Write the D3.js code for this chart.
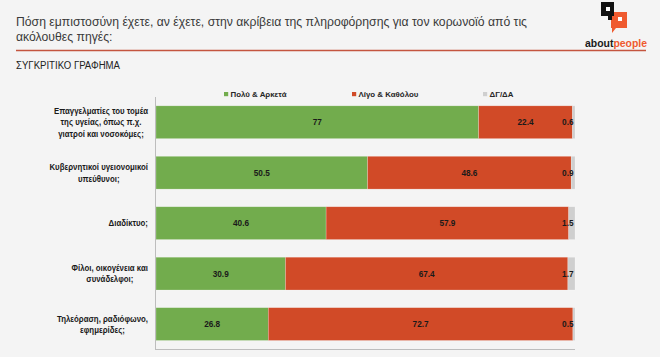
<!DOCTYPE html>
<html>
<head>
<meta charset="utf-8">
<script src="https://cdn.jsdelivr.net/npm/d3@7"></script>
<style>
html,body{margin:0;padding:0;background:#f4f4f4;}
svg{display:block;}
text{font-family:"Liberation Sans",Arial,sans-serif;}
</style>
</head>
<body>
<svg id="chart" width="660" height="357"></svg>
<script>
const titleLines = ["Πόση εμπιστοσύνη έχετε, αν έχετε, στην ακρίβεια της πληροφόρησης για τον κορωνοϊό από τις", "ακόλουθες πηγές:"];
const subtitle = "ΣΥΓΚΡΙΤΙΚΟ ΓΡΑΦΗΜΑ";
const seriesNames = ["Πολύ & Αρκετά", "Λίγο & Καθόλου", "ΔΓ/ΔΑ"];
const seriesColors = ["#72ac4d", "#d14a27", "#cfcfcf"];
const categories = [
  "Επαγγελματίες του τομέα της υγείας, όπως π.χ. γιατροί και νοσοκόμες;",
  "Κυβερνητικοί υγειονομικοί υπεύθυνοι;",
  "Διαδίκτυο;",
  "Φίλοι, οικογένεια και συνάδελφοι;",
  "Τηλεόραση, ραδιόφωνο, εφημερίδες;"
];
const categoryLines = [
  ["Επαγγελματίες του τομέα", "της υγείας, όπως π.χ.", "γιατροί και νοσοκόμες;"],
  ["Κυβερνητικοί υγειονομικοί", "υπεύθυνοι;"],
  ["Διαδίκτυο;"],
  ["Φίλοι, οικογένεια και", "συνάδελφοι;"],
  ["Τηλεόραση, ραδιόφωνο,", "εφημερίδες;"]
];
const poluArketa = [77, 50.5, 40.6, 30.9, 26.8];
const ligoKatholou = [22.4, 48.6, 57.9, 67.4, 72.7];
const dgDa = [0.6, 0.9, 1.5, 1.7, 0.5];

const svg = d3.select("#chart");

// horizontal compression factor so that text at a given size fits a target width
function compressFactor(str, size, weight, target) {
  const p = svg.append("text").style("font-size", size + "px").style("font-weight", weight).text(str);
  const w = p.node().getComputedTextLength();
  p.remove();
  return target / w;
}
function squeeze(sel, k) {
  const w = sel.node().getComputedTextLength();
  sel.attr("textLength", w * k).attr("lengthAdjust", "spacingAndGlyphs");
  return w * k;
}

// Title (one text, two lines)
const titleSize = 13;
const kt = compressFactor(titleLines[0], titleSize, 400, 511);
const title = svg.append("text").attr("fill", "#3a3a3a").style("font-size", titleSize + "px");
titleLines.forEach((l, i) => {
  const ts = title.append("tspan").attr("x", 16).attr("y", 26.3 + i * 14.6).text(l);
  squeeze(ts, kt);
});

// Red rule
svg.append("line").attr("x1", 16).attr("x2", 646).attr("y1", 50.5).attr("y2", 50.5)
  .attr("stroke", "#c4553f").attr("stroke-width", 1.5);

// Subtitle
const ks = compressFactor(subtitle, 10, 400, 104);
const st = svg.append("text").attr("x", 16).attr("y", 69.3).attr("fill", "#222").style("font-size", "10px").text(subtitle);
squeeze(st, ks);

// Logo
const logo = svg.append("g");
logo.append("path").attr("d", "M611,12 H627 V28 H616 L612,33 V28 H611 Z").attr("fill", "#ef5a2f");
logo.append("rect").attr("x", 618).attr("y", 17).attr("width", 4).attr("height", 4).attr("fill", "#fff");
logo.append("path").attr("d", "M601,2 H614 V16 H612 V20 H608 V16 H601 Z").attr("fill", "#111");
logo.append("rect").attr("x", 606).attr("y", 7).attr("width", 4).attr("height", 4).attr("fill", "#fff");
const kl = compressFactor("aboutpeople", 10.5, 700, 62);
const lt = logo.append("text").attr("x", 585).attr("y", 47).style("font-weight", "700").style("font-size", "10.5px");
lt.append("tspan").attr("fill", "#1a1a1a").text("about");
lt.append("tspan").attr("fill", "#ef5a2f").text("people");
squeeze(lt, kl);

// Scales
const x = d3.scaleLinear().domain([0, 100]).range([156, 575]);
const y = d3.scaleBand().domain(categories).range([97, 349.3]).paddingInner(0.35).paddingOuter(0.175);

const series = [poluArketa, ligoKatholou, dgDa];
const rows = categories.map((c, i) => {
  const o = {cat: c};
  seriesNames.forEach((s, j) => o[s] = series[j][i]);
  return o;
});
const stacked = d3.stack().keys(seriesNames)(rows);

// Bars
const gBars = svg.append("g");
stacked.forEach((layer, j) => {
  gBars.selectAll(null).data(layer).enter().append("rect")
    .attr("x", d => x(d[0]))
    .attr("width", d => x(d[1]) - x(d[0]))
    .attr("y", d => y(d.data.cat))
    .attr("height", y.bandwidth())
    .attr("fill", seriesColors[j])
    .attr("stroke", "rgba(255,255,255,0.35)")
    .attr("stroke-width", 0.6);
});

// Axis lines
svg.append("line").attr("x1", 155.5).attr("x2", 155.5).attr("y1", 97).attr("y2", 349.5).attr("stroke", "#bdbdbd").attr("stroke-width", 1);
svg.append("line").attr("x1", 155).attr("x2", 575).attr("y1", 349.5).attr("y2", 349.5).attr("stroke", "#bdbdbd").attr("stroke-width", 1);

// Value labels
const valSize = 8.3;
const kv = compressFactor("72.7", valSize, 700, 16);
stacked.forEach((layer, j) => {
  gBars.selectAll(null).data(layer).enter().append("text")
    .style("font-weight", "700").style("font-size", valSize + "px").attr("fill", "#1a1a1a")
    .attr("dominant-baseline", "central").attr("text-anchor", "middle")
    .attr("y", d => y(d.data.cat) + y.bandwidth() / 2)
    .text(d => d.data[seriesNames[j]])
    .each(function(d) {
      const sel = d3.select(this);
      const w = squeeze(sel, kv);
      let cx = (x(d[0]) + x(d[1])) / 2;
      if (cx + w / 2 > x(100) - 1.5) cx = x(100) - 1.5 - w / 2;
      sel.attr("x", cx);
    });
});

// Category labels (one text per category, one tspan per line)
const catSize = 9.2;
const kc = compressFactor(categoryLines[0][0], catSize, 700, 94);
const lh = 11.3;
categories.forEach((c, i) => {
  const lines = categoryLines[i];
  const t = svg.append("text")
    .style("font-weight", "700").style("font-size", catSize + "px").attr("fill", "#1a1a1a")
    .attr("text-anchor", "middle");
  const widths = [];
  const spans = lines.map((l, k) => {
    const ts = t.append("tspan")
      .attr("y", y(c) + y.bandwidth() / 2 + (k - (lines.length - 1) / 2) * lh + catSize * 0.35)
      .text(l);
    widths.push(squeeze(ts, kc));
    return ts;
  });
  const maxW = d3.max(widths);
  spans.forEach(ts => ts.attr("x", 148 - maxW / 2));
});

// Legend
const legendX = [224, 352, 483];
const legSize = 8;
const kg = compressFactor(seriesNames[0], legSize, 700, 56);
seriesNames.forEach((s, j) => {
  svg.append("rect").attr("x", legendX[j]).attr("y", 92).attr("width", 4.2).attr("height", 4.2).attr("fill", seriesColors[j]);
  const t = svg.append("text").attr("x", legendX[j] + 6.5).attr("y", 94.3).attr("dominant-baseline", "central")
    .style("font-weight", "700").style("font-size", legSize + "px").attr("fill", "#262626").text(s);
  squeeze(t, kg);
});
</script>
</body>
</html>
